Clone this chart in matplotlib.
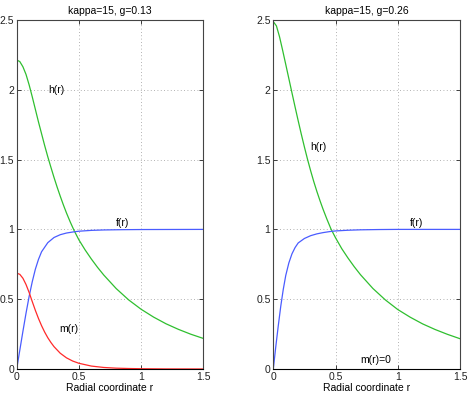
import numpy as np
import matplotlib
matplotlib.use("Agg")
import matplotlib.pyplot as plt

plt.rcParams['font.family'] = ['Liberation Sans', 'DejaVu Sans']

# ---- data ----
titles = ["kappa=15, g=0.13", "kappa=15, g=0.26"]

# left panel (g=0.13)
r_h1 = [0.0, 0.025, 0.05, 0.075, 0.1, 0.125, 0.15, 0.175, 0.2, 0.225, 0.25, 0.275, 0.3,
        0.325, 0.35, 0.375, 0.4, 0.43, 0.463, 0.5, 0.55, 0.6, 0.65, 0.7, 0.8, 0.9, 1.0,
        1.1, 1.2, 1.3, 1.4, 1.5]
h1   = [2.214, 2.202, 2.165, 2.11, 2.035, 1.95, 1.86, 1.77, 1.685, 1.60, 1.52, 1.445, 1.372,
        1.303, 1.238, 1.176, 1.118, 1.054, 0.989, 0.925, 0.853, 0.788, 0.728, 0.673, 0.576, 0.495, 0.428,
        0.372, 0.324, 0.284, 0.249, 0.219]

r_f1 = [0.0, 0.025, 0.05, 0.075, 0.1, 0.125, 0.15, 0.175, 0.2, 0.25, 0.3, 0.35, 0.4,
        0.463, 0.5, 0.6, 0.7, 0.85, 1.0, 1.5]
f1   = [0.0, 0.135, 0.27, 0.4, 0.52, 0.625, 0.715, 0.785, 0.84, 0.905, 0.942, 0.962, 0.974,
        0.983, 0.987, 0.993, 0.996, 0.998, 0.999, 1.0]

r_m1 = [0.0, 0.025, 0.05, 0.075, 0.1, 0.125, 0.15, 0.175, 0.2, 0.225, 0.25, 0.275, 0.3,
        0.35, 0.4, 0.45, 0.5, 0.6, 0.7, 0.8, 0.9, 1.0, 1.2, 1.5]
m1   = [0.687, 0.678, 0.65, 0.605, 0.548, 0.483, 0.42, 0.362, 0.31, 0.264, 0.224, 0.19, 0.16,
        0.113, 0.08, 0.057, 0.041, 0.021, 0.011, 0.006, 0.0035, 0.002, 0.0006, 0.0001]

# right panel (g=0.26)
r_h2 = [0.0, 0.025, 0.05, 0.075, 0.1, 0.125, 0.15, 0.175, 0.2, 0.225, 0.25, 0.275, 0.3,
        0.325, 0.35, 0.375, 0.4, 0.43, 0.463, 0.5, 0.55, 0.6, 0.65, 0.7, 0.8, 0.9, 1.0,
        1.1, 1.2, 1.3, 1.4, 1.5]
h2   = [2.488, 2.458, 2.38, 2.283, 2.182, 2.08, 1.978, 1.877, 1.778, 1.682, 1.59, 1.502, 1.42,
        1.343, 1.272, 1.206, 1.144, 1.075, 1.004, 0.94, 0.862, 0.795, 0.733, 0.676, 0.577, 0.495, 0.426,
        0.371, 0.323, 0.283, 0.248, 0.217]

r_f2 = [0.0, 0.02, 0.04, 0.06, 0.08, 0.1, 0.125, 0.15, 0.175, 0.2, 0.25, 0.3, 0.35, 0.4,
        0.458, 0.5, 0.6, 0.7, 0.85, 1.0, 1.5]
f2   = [0.0, 0.16, 0.31, 0.45, 0.57, 0.67, 0.76, 0.825, 0.87, 0.903, 0.935, 0.955, 0.968, 0.977,
        0.985, 0.989, 0.994, 0.997, 0.999, 1.0, 1.0]

xticks = [0, 0.5, 1, 1.5]
xtick_labels = ["0", "0.5", "1", "1.5"]
yticks = [0, 0.5, 1, 1.5, 2, 2.5]
ytick_labels = ["0", "0.5", "1", "1.5", "2", "2.5"]

GREEN = "#2fbf2f"
BLUE = "#4a5cff"
RED = "#ff2a2a"

fig = plt.figure(figsize=(4.71, 3.96), dpi=100)
axL = fig.add_axes([16.7/471, 27/396, 186.6/471, 349/396])
axR = fig.add_axes([273.3/471, 27/396, 186.7/471, 349/396])

def style(ax, title):
    ax.set_xlim(0, 1.5)
    ax.set_ylim(0, 2.5)
    ax.set_xticks(xticks)
    ax.set_xticklabels(xtick_labels)
    ax.set_yticks(yticks)
    ax.set_yticklabels(ytick_labels)
    ax.tick_params(direction='in', top=True, right=True, length=3, width=0.6,
                   labelsize=7.5, pad=2, colors='#222222')
    ax.grid(True, linestyle=(0, (1, 3)), color='#999999', linewidth=0.6)
    for s in ax.spines.values():
        s.set_linewidth(0.8)
        s.set_color('#444444')
    ax.spines['bottom'].set_color('black')
    ax.set_title(title, fontsize=7.5, pad=4)
    ax.set_xlabel("Radial coordinate r", fontsize=7.5, labelpad=1)

style(axL, titles[0])
axL.plot(r_h1, h1, color=GREEN, lw=0.9)
axL.plot(r_f1, f1, color=BLUE, lw=0.9)
axL.plot(r_m1, m1, color=RED, lw=0.9)
axL.text(0.315, 2.0, "h(r)", fontsize=7.5, ha='center', va='center')
axL.text(0.85, 1.045, "f(r)", fontsize=7.5, ha='center', va='center')
axL.text(0.42, 0.29, "m(r)", fontsize=7.5, ha='center', va='center')

style(axR, titles[1])
axR.plot(r_h2, h2, color=GREEN, lw=0.9)
axR.plot(r_f2, f2, color=BLUE, lw=0.9)
axR.text(0.36, 1.59, "h(r)", fontsize=7.5, ha='center', va='center')
axR.text(1.15, 1.045, "f(r)", fontsize=7.5, ha='center', va='center')
axR.text(0.82, 0.065, "m(r)=0", fontsize=7.5, ha='center', va='center')

fig.savefig("out.png", dpi=100)
